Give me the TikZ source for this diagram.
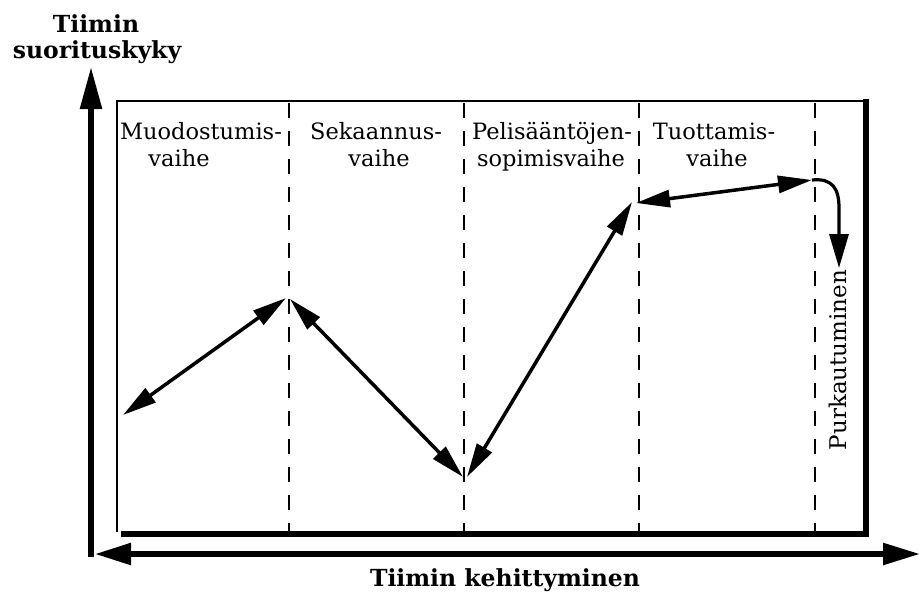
\documentclass[tikz,border=0pt]{standalone}
\usepackage{fontspec}
\setmainfont{DejaVu Serif}
\usetikzlibrary{arrows.meta}
\begin{document}
\begin{tikzpicture}[x=1pt,y=-1pt,
  axisline/.style={line width=5.5pt},
  divider/.style={line width=2.8pt,dash pattern=on 15pt off 13pt},
  dbl/.style={line width=3.5pt,{Triangle[length=34pt,width=17pt]}-{Triangle[length=34pt,width=17pt]}},
  lbl/.style={font=\fontsize{22.5}{27}\selectfont,inner sep=0pt,anchor=base},
  blbl/.style={font=\fontsize{23.5}{28}\selectfont\bfseries,inner sep=0pt,anchor=base}]
\useasboundingbox (0,0) rectangle (920,592);
% axes
\coordinate (ybot) at (91,557);
\coordinate (ytop) at (91,67);
\coordinate (xl) at (95,554);
\coordinate (xr) at (920,554);
\draw[axisline,-{Triangle[length=42pt,width=21pt]}] (ybot) -- (ytop);
\draw[axisline,{Triangle[length=36pt,width=21pt]}-{Triangle[length=37pt,width=21pt]}] (xl) -- (xr);
% box
\draw[line width=1.8pt] (117,532) -- (117,101) -- (866,101);
\draw[line width=5.5pt] (121,534) -- (866,534) -- (866,99);
% dividers
\foreach \x/\n in {289/a,464/b,639/c,815/d}{
  \coordinate (d\n t) at (\x,103);
  \coordinate (d\n b) at (\x,532);
  \draw[divider] (d\n t) -- (d\n b);
}
% labels
\node[blbl] (t1) at (96,32) {Tiimin};
\node[blbl] (t2) at (97,58) {suorituskyky};
\node[blbl] (t3) at (505,586) {Tiimin kehittyminen};
\node[lbl] (m1) at (201,139) {Muodostumis-};
\node[lbl] (m2) at (179,166) {vaihe};
\node[lbl] (s1) at (376,139) {Sekaannus-};
\node[lbl] (s2) at (379,166) {vaihe};
\node[lbl] (p1) at (552,139) {Pelisääntöjen-};
\node[lbl] (p2) at (551,166) {sopimisvaihe};
\node[lbl] (u1) at (714,139) {Tuottamis-};
\node[lbl] (u2) at (717,166) {vaihe};
\node[font=\fontsize{23}{27}\selectfont,inner sep=0pt,rotate=90] (pk) at (838,360) {Purkautuminen};
% curve points
\coordinate (c1) at (123,415);
\coordinate (c2) at (286,298);
\coordinate (c3) at (290,299);
\coordinate (c4) at (463,477);
\coordinate (c5) at (467,477);
\coordinate (c6) at (632,202);
\coordinate (c7) at (636,203);
\coordinate (c8) at (812,180);
\coordinate (c9) at (839,268);
\draw[dbl] (c1) -- (c2);
\draw[dbl] (c3) -- (c4);
\draw[dbl] (c5) -- (c6);
\draw[dbl] (c7) -- (c8);
\draw[line width=3.2pt,-{Triangle[length=34pt,width=19pt]}] (c8) .. controls (832,178) and (839,188) .. (839,208) -- (c9);
\end{tikzpicture}
\end{document}
